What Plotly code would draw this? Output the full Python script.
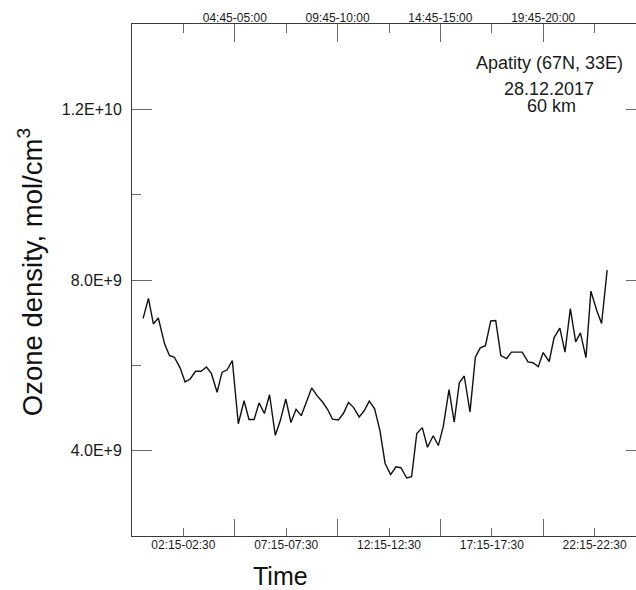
import plotly.graph_objects as go

# ---- data (time in hours of day, ozone density in units of 1e9 mol/cm3) ----
time_h = [0.29, 0.55, 0.79, 1.03, 1.33, 1.57, 1.81, 2.09, 2.33, 2.58, 2.84, 3.11, 3.37, 3.61,
          3.89, 4.13, 4.37, 4.63, 4.92, 5.20, 5.44, 5.69, 5.93, 6.19, 6.44, 6.72, 6.96, 7.23,
          7.48, 7.73, 7.98, 8.23, 8.49, 8.75, 9.02, 9.26, 9.50, 9.79, 10.03, 10.28, 10.53,
          10.80, 11.05, 11.29, 11.55, 11.81, 12.06, 12.33, 12.59, 12.83, 13.11, 13.35, 13.60,
          13.87, 14.12, 14.40, 14.65, 14.89, 15.17, 15.42, 15.67, 15.91, 16.19, 16.45, 16.69,
          16.94, 17.20, 17.44, 17.69, 17.97, 18.21, 18.47, 18.73, 19.01, 19.25, 19.51, 19.75,
          20.04, 20.28, 20.56, 20.81, 21.07, 21.33, 21.56, 21.83, 22.07, 22.35, 22.59, 22.86]
ozone_e9 = [7.10, 7.57, 6.97, 7.11, 6.51, 6.23, 6.19, 5.94, 5.61, 5.68, 5.86, 5.86, 5.96, 5.81,
            5.37, 5.84, 5.89, 6.11, 4.63, 5.17, 4.73, 4.73, 5.12, 4.87, 5.31, 4.36, 4.70, 5.21,
            4.66, 4.97, 4.82, 5.12, 5.47, 5.29, 5.14, 4.97, 4.74, 4.72, 4.87, 5.13, 5.01,
            4.79, 4.94, 5.16, 4.98, 4.47, 3.70, 3.44, 3.62, 3.60, 3.36, 3.39, 4.40,
            4.54, 4.08, 4.35, 4.12, 4.57, 5.43, 4.67, 5.59, 5.75, 4.91, 6.19, 6.41,
            6.46, 7.04, 7.05, 6.23, 6.16, 6.31, 6.31, 6.31, 6.08, 6.06, 5.97, 6.30,
            6.09, 6.65, 6.87, 6.31, 7.33, 6.55, 6.76, 6.18, 7.74, 7.29, 6.98, 8.23]
ozone = [v * 1e9 for v in ozone_e9]

bottom_tick_hours = [2.25, 7.25, 12.25, 17.25, 22.25]
bottom_tick_labels = ["02:15-02:30", "07:15-07:30", "12:15-12:30", "17:15-17:30", "22:15-22:30"]
top_tick_hours = [4.75, 9.75, 14.75, 19.75]
top_tick_labels = ["04:45-05:00", "09:45-10:00", "14:45-15:00", "19:45-20:00"]
y_tick_vals = [4e9, 8e9, 1.2e10]
y_tick_labels = ["4.0E+9", "8.0E+9", "1.2E+10"]
y_minor_vals = [6e9, 1e10]
info_lines = ["Apatity (67N, 33E)", "28.12.2017", "60 km"]

FONT = "Liberation Sans, Arial, sans-serif"
AXC = "#3a3a3a"
TKC = "#6a6a6a"
XR = [-0.25, 24.75]
YR = [2e9, 1.4e10]

fig = go.Figure()
fig.add_trace(go.Scatter(x=time_h, y=ozone, mode="lines",
                         line=dict(color="#111111", width=1.4), showlegend=False,
                         hoverinfo="skip"))

fig.update_layout(
    width=646, height=590,
    margin=dict(l=132, r=0, t=24, b=54),
    paper_bgcolor="white", plot_bgcolor="white",
    hovermode=False,
    font=dict(family=FONT, color="#1a1a1a"),
    xaxis=dict(range=XR, showgrid=False, zeroline=False, showline=True, linecolor=AXC,
               linewidth=1, ticks="inside", ticklen=8, tickcolor=TKC, tickwidth=1,
               tickmode="array", tickvals=bottom_tick_hours, ticktext=bottom_tick_labels,
               tickfont=dict(size=12, family=FONT, color="#1a1a1a"), tickangle=0,
               ticklabelstandoff=-2,
               minor=dict(tickmode="array", tickvals=top_tick_hours, ticklen=17,
                          ticks="inside", tickcolor=TKC, tickwidth=1)),
    xaxis2=dict(range=XR, overlaying="x", matches="x", side="top", anchor="y",
                showgrid=False, zeroline=False, showline=True, linecolor=AXC, linewidth=1,
                ticks="inside", ticklen=18, tickcolor=TKC, tickwidth=1,
                tickmode="array", tickvals=top_tick_hours, ticktext=top_tick_labels,
                tickfont=dict(size=12, family=FONT, color="#1a1a1a"), tickangle=0,
                ticklabelstandoff=-4,
                minor=dict(tickmode="array", tickvals=bottom_tick_hours, ticklen=9,
                           ticks="inside", tickcolor=TKC, tickwidth=1)),
    yaxis=dict(range=YR, showgrid=False, zeroline=False, showline=True, linecolor=AXC,
               linewidth=1, ticks="inside", ticklen=20, tickcolor=TKC, tickwidth=1,
               tickmode="array", tickvals=y_tick_vals, ticktext=y_tick_labels,
               tickfont=dict(size=16, family=FONT, color="#1a1a1a"), ticklabelstandoff=6,
               minor=dict(tickmode="array", tickvals=y_minor_vals, ticklen=9,
                          ticks="inside", tickcolor=TKC, tickwidth=1)),
    yaxis2=dict(range=YR, overlaying="y", matches="y", side="right", anchor="x",
                showgrid=False, zeroline=False, showline=True, linecolor=AXC, linewidth=1,
                ticks="inside", ticklen=20, tickcolor=TKC, tickwidth=1,
                tickmode="array", tickvals=y_tick_vals, showticklabels=False,
                minor=dict(tickmode="array", tickvals=y_minor_vals, ticklen=9,
                           ticks="inside", tickcolor=TKC, tickwidth=1)),
)

# invisible trace to attach the overlay axes (top x, right y)
fig.add_trace(go.Scatter(x=[XR[0]], y=[YR[0]], xaxis="x2", yaxis="y2", mode="markers",
                         marker=dict(opacity=0), showlegend=False, hoverinfo="skip"))

annotations = [
    dict(text="Time", x=0.2889, y=-0.078, xref="paper", yref="paper", showarrow=False,
         xanchor="center", yanchor="middle", font=dict(size=25, family=FONT, color="#111111")),
    dict(text="Ozone density, mol/cm<sup>3</sup>", x=-0.198, y=0.5156, xref="paper",
         yref="paper", showarrow=False, textangle=-90, xanchor="center", yanchor="middle",
         font=dict(size=27.5, family=FONT, color="#111111")),
]
info_x = [0.8126, 0.8109, 0.8167]
info_y = [0.9232, 0.8727, 0.8402]
for txt, xx, yy in zip(info_lines, info_x, info_y):
    annotations.append(dict(text=txt, x=xx, y=yy, xref="paper", yref="paper",
                            showarrow=False, xanchor="center", yanchor="middle",
                            font=dict(size=18, family=FONT, color="#1a1a1a")))
fig.update_layout(annotations=annotations)

# page: no body margin, no scrollbars, so the figure sits at the window's top-left corner
page_js = ("document.body.style.margin='0';"
           "document.documentElement.style.overflow='hidden';"
           "document.body.style.overflow='hidden';")
fig.write_html("out.html", post_script=page_js,
               config={"displayModeBar": False, "staticPlot": True})
